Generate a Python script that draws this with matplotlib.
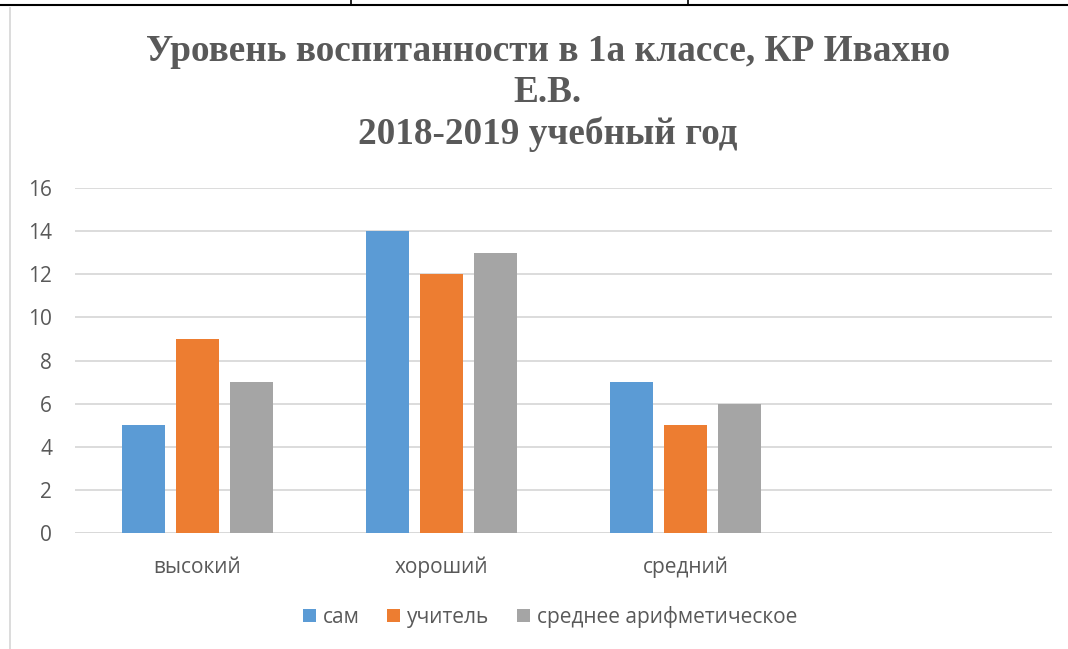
import matplotlib.pyplot as plt
import numpy as np

# data
categories = ["высокий", "хороший", "средний", ""]
sam = [5, 14, 7, np.nan]
teacher = [9, 12, 5, np.nan]
mean_val = [7, 13, 6, np.nan]
series_names = ["сам", "учитель", "среднее арифметическое"]
colors = ["#5B9BD5", "#ED7D31", "#A5A5A5"]
yticks = [0, 2, 4, 6, 8, 10, 12, 14, 16]

plt.rcParams['font.family'] = ['Open Sans', 'DejaVu Sans']
txt = "#595959"

fig = plt.figure(figsize=(10.68, 6.49), dpi=100)
ax = fig.add_axes([0.0702, 0.1787, 0.9148, 0.5316])

x = np.arange(len(categories))
w = 0.176
step = 0.221
for i, (vals, name, c) in enumerate(zip([sam, teacher, mean_val], series_names, colors)):
    ax.bar(x + (i - 1) * step, vals, w, color=c, label=name, zorder=3)

ax.set_xlim(-0.5, len(categories) - 0.5)
ax.set_ylim(0, 16)
ax.set_yticks(yticks)
ax.yaxis.grid(True, color="#D9D9D9", linewidth=1.3, zorder=0)
for s in ax.spines.values():
    s.set_visible(False)
ax.axhline(0, color="#D9D9D9", linewidth=1.3, zorder=1)
ax.tick_params(axis="both", length=0, labelsize=15, labelcolor=txt)
ax.tick_params(axis="y", pad=16.5)
ax.tick_params(axis="x", pad=17)
ax.set_xticks(x)
ax.set_xticklabels(categories)

# title
fig.text(0.513, 1 - 93 / 649, "Уровень воспитанности в 1а классе, КР Ивахно\nЕ.В.\n2018-2019 учебный год",
         ha="center", va="center", fontsize=26.8, fontweight="bold", color=txt,
         family=["Liberation Serif", "DejaVu Serif"], linespacing=1.22)

fig.legend(loc="center", bbox_to_anchor=(0.515, 1 - 617 / 649), ncol=3, frameon=False,
           fontsize=15, labelcolor=txt, handlelength=0.63, handleheight=0.63,
           handletextpad=0.35, columnspacing=1.3)

# page decorations: table line at top, chart frame on the left
fig.add_artist(plt.Line2D([0, 1], [1 - 5 / 649, 1 - 5 / 649], color="black", linewidth=1.5))
for xv in [351 / 1068, 688 / 1068]:
    fig.add_artist(plt.Line2D([xv, xv], [1, 1 - 5 / 649], color="black", linewidth=1.2))
fig.add_artist(plt.Line2D([10 / 1068, 10 / 1068], [0, 1 - 8 / 649], color="#D9D9D9", linewidth=1.3))

fig.savefig("out.png", dpi=100)
